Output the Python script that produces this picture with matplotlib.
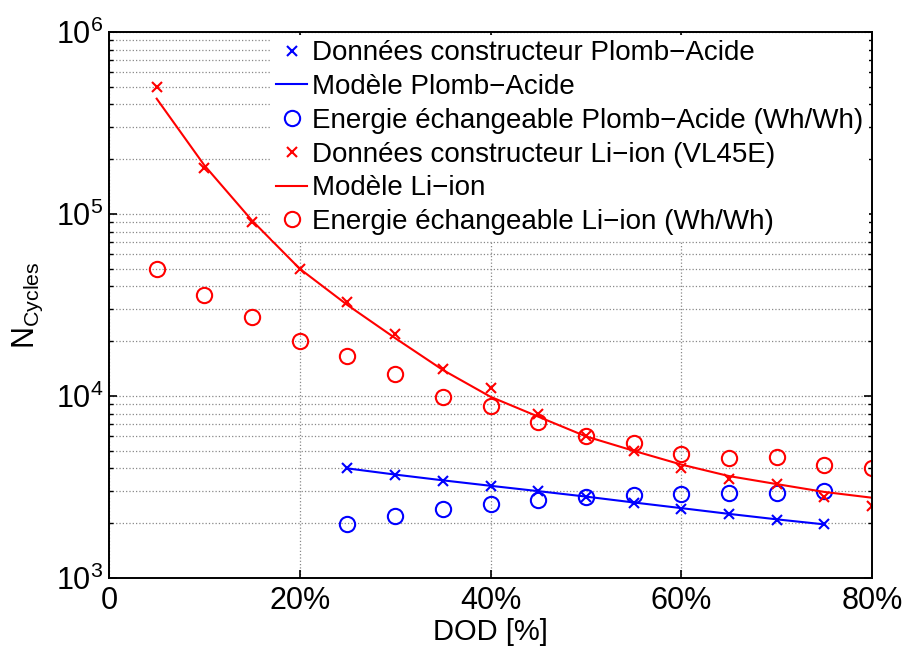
import matplotlib
matplotlib.use("Agg")
from matplotlib import pyplot as plt
from matplotlib.ticker import FixedLocator, LogLocator, NullFormatter

plt.rcParams['font.family'] = ['Liberation Sans', 'DejaVu Sans']
plt.rcParams['mathtext.fontset'] = 'custom'
plt.rcParams['mathtext.rm'] = 'Liberation Sans'
plt.rcParams['mathtext.it'] = 'Liberation Sans'

# DOD values (fraction)
dod_li = [0.05, 0.10, 0.15, 0.20, 0.25, 0.30, 0.35, 0.40, 0.45, 0.50,
          0.55, 0.60, 0.65, 0.70, 0.75, 0.80]
dod_pb = [0.25, 0.30, 0.35, 0.40, 0.45, 0.50, 0.55, 0.60, 0.65, 0.70, 0.75]

# Li-ion
li_data = [5.0e5, 1.8e5, 9.0e4, 5.0e4, 3.3e4, 2.2e4, 1.4e4, 1.1e4, 8.0e3, 6.0e3,
           5.0e3, 4.0e3, 3.5e3, 3.3e3, 2.8e3, 2.5e3]
li_model = [4.3e5, 1.85e5, 9.2e4, 5.0e4, 3.16e4, 2.08e4, 1.39e4, 9.9e3, 7.7e3, 6.0e3,
            5.0e3, 4.2e3, 3.63e3, 3.28e3, 2.97e3, 2.76e3]
li_energy = [5.0e4, 3.6e4, 2.7e4, 2.0e4, 1.66e4, 1.32e4, 9.9e3, 8.8e3, 7.2e3, 6.0e3,
             5.5e3, 4.8e3, 4.56e3, 4.6e3, 4.2e3, 4.0e3]

# Plomb-Acide
pb_data = [4.0e3, 3.68e3, 3.41e3, 3.2e3, 3.0e3, 2.79e3, 2.58e3, 2.4e3, 2.25e3, 2.08e3, 1.98e3]
pb_model = [4.0e3, 3.7e3, 3.44e3, 3.21e3, 3.0e3, 2.8e3, 2.6e3, 2.42e3, 2.25e3, 2.1e3, 1.97e3]
pb_energy = [1.98e3, 2.19e3, 2.4e3, 2.55e3, 2.68e3, 2.79e3, 2.86e3, 2.89e3, 2.93e3, 2.93e3, 3.0e3]

x_ticks = [0, 0.2, 0.4, 0.6, 0.8]
x_labels = ['0', '20%', '40%', '60%', '80%']

fig = plt.figure(figsize=(9.03, 6.46), dpi=100)
ax = fig.add_axes([0.1207, 0.1053, 0.8450, 0.8452])

ax.plot(dod_pb, pb_data, 'x', color='blue', ms=7, mew=1.5,
        label='Données constructeur Plomb−Acide')
ax.plot(dod_pb, pb_model, '-', color='blue', lw=1.5, label='Modèle Plomb−Acide')
ax.plot(dod_pb, pb_energy, 'o', color='blue', mfc='none', ms=11, mew=1.5,
        label='Energie échangeable Plomb−Acide (Wh/Wh)')
ax.plot(dod_li, li_data, 'x', color='red', ms=7, mew=1.5,
        label='Données constructeur Li−ion (VL45E)')
ax.plot(dod_li, li_model, '-', color='red', lw=1.5, label='Modèle Li−ion')
ax.plot(dod_li, li_energy, 'o', color='red', mfc='none', ms=11, mew=1.5,
        label='Energie échangeable Li−ion (Wh/Wh)')

ax.set_yscale('log')
ax.set_xlim(0, 0.8)
ax.set_ylim(1e3, 1e6)
ax.xaxis.set_major_locator(FixedLocator(x_ticks))
ax.set_xticklabels(x_labels)
ax.yaxis.set_minor_locator(LogLocator(base=10, subs=range(2, 10), numticks=10))
ax.yaxis.set_minor_formatter(NullFormatter())
ax.set_yticks([1e3, 1e4, 1e5, 1e6])
ax.set_yticklabels([r'$\mathregular{10^{3}}$', r'$\mathregular{10^{4}}$',
                    r'$\mathregular{10^{5}}$', r'$\mathregular{10^{6}}$'])

ax.tick_params(which='both', direction='in', top=True, right=True, labelsize=22)
ax.tick_params(axis='x', pad=6)
ax.tick_params(axis='y', pad=4)
ax.tick_params(which='major', length=6, width=1.2)
ax.tick_params(which='minor', length=3, width=1.0)
for s in ax.spines.values():
    s.set_linewidth(1.4)

ax.grid(True, which='major', axis='both', linestyle=':', color='#888888', lw=0.9)
ax.grid(True, which='minor', axis='y', linestyle=':', color='#888888', lw=0.9)
ax.set_axisbelow(True)

ax.set_xlabel('DOD [%]', fontsize=21, labelpad=1)
ax.set_ylabel(r'$\mathregular{N_{Cycles}}$', fontsize=22, labelpad=8)

leg = ax.legend(loc='upper right', fontsize=20, frameon=True, framealpha=1,
                edgecolor='white', handlelength=1.1, handletextpad=0.2,
                labelspacing=0.28, borderaxespad=0.1, borderpad=0.2)
leg.get_frame().set_linewidth(0)

fig.savefig('out.png', dpi=100)
